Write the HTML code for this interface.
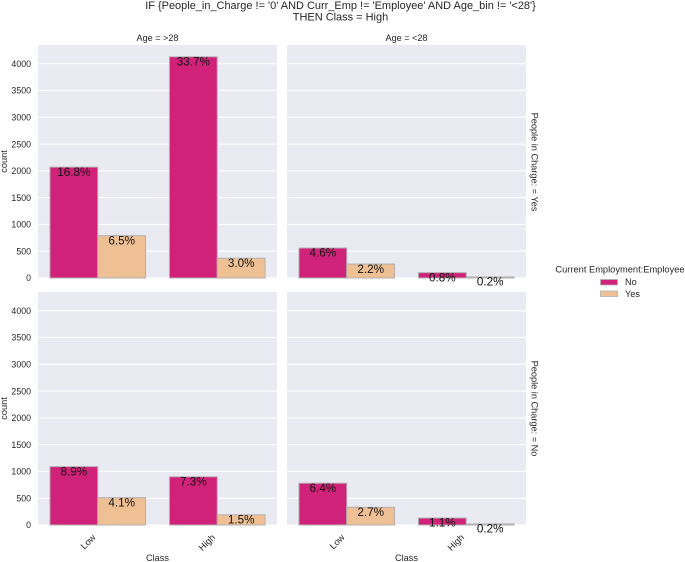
<!DOCTYPE html>
<html>
<head>
<meta charset="utf-8">
<style>
html,body{margin:0;padding:0;background:#fff;width:685px;height:562px;overflow:hidden}
svg{display:block;filter:blur(0.3px)}
text{font-family:"Liberation Sans",Arial,sans-serif;fill:#262626}
</style>
</head>
<body>
<svg id="chart" xmlns="http://www.w3.org/2000/svg" width="685" height="562" viewBox="0 0 685 562">
  <text x="340.5" y="9" font-size="10.97" text-anchor="middle">IF {People_in_Charge != '0' AND Curr_Emp != 'Employee' AND Age_bin != '&lt;28'}</text>
  <text x="340.5" y="20.5" font-size="10.97" text-anchor="middle">THEN Class = High</text>
  <text x="157.5" y="41" font-size="9.1" text-anchor="middle">Age = &gt;28</text>
  <text x="406.5" y="41" font-size="9.1" text-anchor="middle">Age = &lt;28</text>
  <text font-size="9.2" text-anchor="middle" transform="translate(531.5,162) rotate(90)">People in Charge: = Yes</text>
  <text font-size="9.2" text-anchor="middle" transform="translate(531.5,408.5) rotate(90)">People in Charge: = No</text>
  <text font-size="9.2" text-anchor="middle" transform="translate(7,161.5) rotate(-90)">count</text>
  <text font-size="9.2" text-anchor="middle" transform="translate(7,408.5) rotate(-90)">count</text>
  <text x="157.5" y="561" font-size="9.2" text-anchor="middle">Class</text>
  <text x="406.5" y="561" font-size="9.2" text-anchor="middle">Class</text>
  <text x="620" y="272.5" font-size="9.3" text-anchor="middle">Current Employment:Employee</text>
  <rect x="600.5" y="279.5" width="17" height="5.5" fill="#d1227a" stroke="#b0b0b0" stroke-width="0.8"/>
  <text x="625" y="285" font-size="9.2">No</text>
  <rect x="600.5" y="291" width="17" height="5.5" fill="#efc094" stroke="#b0b0b0" stroke-width="0.8"/>
  <text x="625" y="297" font-size="9.2">Yes</text>
  <g id="plots"></g>
</svg>
<script>
// Chart data
const categories = ["Low", "High"];
const hues = ["No", "Yes"];
const yTicks = [0, 500, 1000, 1500, 2000, 2500, 3000, 3500, 4000];
const countsTopLeftNo = [2070, 4130];
const countsTopLeftYes = [790, 370];
const countsTopRightNo = [560, 100];
const countsTopRightYes = [260, 20];
const countsBottomLeftNo = [1090, 900];
const countsBottomLeftYes = [510, 190];
const countsBottomRightNo = [780, 130];
const countsBottomRightYes = [330, 20];
const pctTopLeftNo = ["16.8%", "33.7%"];
const pctTopLeftYes = ["6.5%", "3.0%"];
const pctTopRightNo = ["4.6%", "0.8%"];
const pctTopRightYes = ["2.2%", "0.2%"];
const pctBottomLeftNo = ["8.9%", "7.3%"];
const pctBottomLeftYes = ["4.1%", "1.5%"];
const pctBottomRightNo = ["6.4%", "1.1%"];
const pctBottomRightYes = ["2.7%", "0.2%"];

const NS = "http://www.w3.org/2000/svg";
const root = document.getElementById("plots");
const colors = ["#d1227a", "#efc094"];
const yMax = 4350;
const panelW = 239;
const panelH = 233;

function make(tag, parent) {
  const el = document.createElementNS(NS, tag);
  parent.appendChild(el);
  return el;
}

function drawPanel(key, left, top, no, yes, pNo, pYes, showY, showX) {
  const xScale = function (v) { return left + (v + 0.5) / categories.length * panelW; };
  const yScale = function (v) { return top + panelH - v / yMax * panelH; };
  const g = make("g", root);
  
  

  const bg = make("rect", g);
  
  
  bg.setAttribute("x", left);
  bg.setAttribute("y", top);
  bg.setAttribute("width", panelW);
  bg.setAttribute("height", panelH);
  bg.setAttribute("fill", "#eaeaf2");

  yTicks.forEach(function (t) {
    const line = make("line", g);
    
    
    line.setAttribute("x1", left);
    line.setAttribute("x2", left + panelW);
    line.setAttribute("y1", yScale(t));
    line.setAttribute("y2", yScale(t));
    line.setAttribute("stroke", "#ffffff");
    line.setAttribute("stroke-width", "1");
    if (showY) {
      const label = make("text", g);
      
      
      label.setAttribute("x", left - 7);
      label.setAttribute("y", yScale(t) + 3.2);
      label.setAttribute("font-size", "8.8");
      label.setAttribute("text-anchor", "end");
      label.textContent = t;
    }
  });

  const unit = panelW / categories.length;
  const barW = unit * 0.4;
  const series = [no, yes];
  const pcts = [pNo, pYes];
  categories.forEach(function (cat, c) {
    series.forEach(function (values, h) {
      const x = xScale(c) - barW + h * barW;
      const y = yScale(values[c]);
      const bar = make("rect", g);
      
      
      bar.setAttribute("x", x);
      bar.setAttribute("y", y);
      bar.setAttribute("width", barW);
      bar.setAttribute("height", yScale(0) - y);
      bar.setAttribute("fill", colors[h]);
      bar.setAttribute("stroke", "#b3b0b2");
      bar.setAttribute("stroke-width", "1");
    });
    series.forEach(function (values, h) {
      const x = xScale(c) - barW + h * barW;
      const label = make("text", g);
      
      
      label.setAttribute("x", x + barW / 2);
      label.setAttribute("y", yScale(values[c]) + 8.7);
      label.setAttribute("font-size", "11.7");
      label.setAttribute("text-anchor", "middle");
      label.setAttribute("style", "fill:#111");
      label.textContent = pcts[h][c];
    });
    if (showX) {
      const tick = make("text", g);
      
      
      tick.setAttribute("font-size", "9.2");
      tick.setAttribute("text-anchor", "end");
      tick.setAttribute("transform", "translate(" + (xScale(c) - 1.5) + "," + (top + panelH + 13) + ") rotate(-45)");
      tick.textContent = cat;
    }
  });
}

drawPanel("top-left", 38, 45, countsTopLeftNo, countsTopLeftYes, pctTopLeftNo, pctTopLeftYes, true, false);
drawPanel("top-right", 287, 45, countsTopRightNo, countsTopRightYes, pctTopRightNo, pctTopRightYes, false, false);
drawPanel("bottom-left", 38, 292, countsBottomLeftNo, countsBottomLeftYes, pctBottomLeftNo, pctBottomLeftYes, true, true);
drawPanel("bottom-right", 287, 292, countsBottomRightNo, countsBottomRightYes, pctBottomRightNo, pctBottomRightYes, false, true);
</script>
</body>
</html>
